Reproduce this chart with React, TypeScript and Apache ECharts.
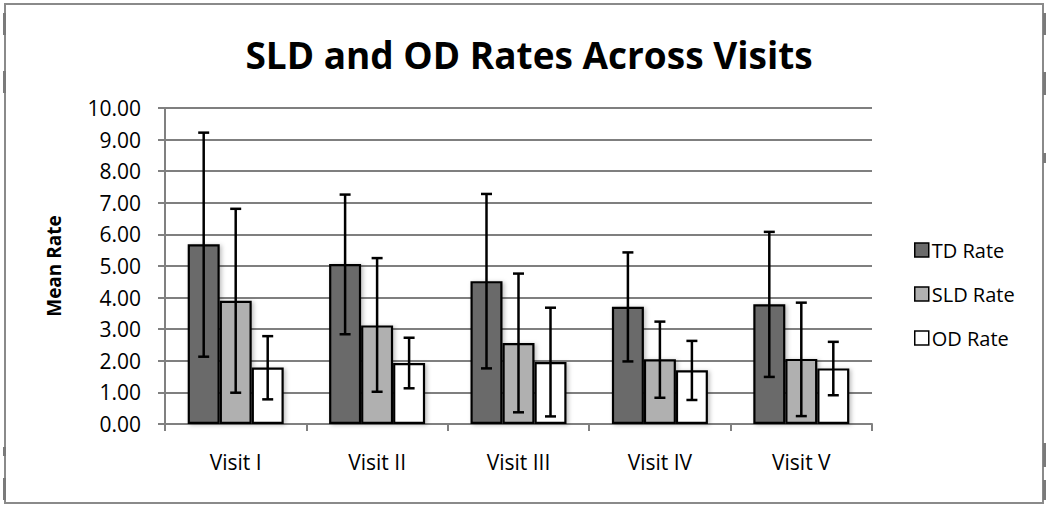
import React, { useEffect, useRef } from "react";
import * as echarts from "echarts";

const categories = ["Visit I", "Visit II", "Visit III", "Visit IV", "Visit V"];
const seriesNames = ["TD Rate", "SLD Rate", "OD Rate"];
const tdRate = [5.69, 5.06, 4.52, 3.71, 3.79];
const sldRate = [3.9, 3.12, 2.56, 2.05, 2.06];
const odRate = [1.79, 1.93, 1.96, 1.7, 1.76];
const tdLow = [2.13, 2.84, 1.76, 1.98, 1.49];
const tdHigh = [9.22, 7.26, 7.28, 5.43, 6.08];
const sldLow = [0.99, 1.02, 0.37, 0.83, 0.25];
const sldHigh = [6.81, 5.25, 4.76, 3.24, 3.84];
const odLow = [0.78, 1.13, 0.24, 0.76, 0.91];
const odHigh = [2.78, 2.73, 3.68, 2.63, 2.6];

const BAR_W = 32;
const FONT = "'Open Sans', sans-serif";

export default function App() {
  const ref = useRef<HTMLDivElement>(null);
  useEffect(() => {
    if (!ref.current) return;
    const chart = echarts.init(ref.current, null, { renderer: "svg" });
    const values = [tdRate, sldRate, odRate];
    const lows = [tdLow, sldLow, odLow];
    const highs = [tdHigh, sldHigh, odHigh];
    const colors = ["#6b6b6b", "#b0b0b0", "#ffffff"];

    const errData: number[][] = [];
    for (let s = 0; s < 3; s++) {
      for (let i = 0; i < categories.length; i++) {
        errData.push([i, lows[s][i], highs[s][i], s]);
      }
    }

    const barSeries = seriesNames.map((name, s) => ({
      name,
      type: "bar",
      data: values[s],
      barWidth: BAR_W,
      barGap: "0%",
      itemStyle: {
        color: colors[s],
        borderColor: "#000",
        borderWidth: 2.2,
        shadowColor: "rgba(0,0,0,0.25)",
        shadowBlur: 4,
        shadowOffsetX: 2,
        shadowOffsetY: 1,
      },
      z: 2,
    }));

    const handles: any[] = [];
    const leftMarks = [[13, 35], [71, 93], [447, 456], [478, 500]];
    const rightMarks = [[13, 35], [72, 95], [153, 163], [443, 467], [480, 500]];
    leftMarks.forEach(([a, b]) =>
      handles.push({ type: "rect", shape: { x: 3, y: a, width: 3, height: b - a }, style: { fill: "#7a7a7a" }, z: 10 })
    );
    rightMarks.forEach(([a, b]) =>
      handles.push({ type: "rect", shape: { x: 1043, y: a, width: 3, height: b - a }, style: { fill: "#7a7a7a" }, z: 10 })
    );

    chart.setOption({
      animation: false,
      backgroundColor: "#ffffff",
      title: {
        text: "SLD and OD Rates Across Visits",
        left: 524,
        textAlign: "center",
        top: 31,
        textStyle: { fontFamily: FONT, fontWeight: "bold", fontSize: 37, color: "#000" },
      },
      legend: {
        orient: "vertical",
        left: 909,
        top: 235,
        itemWidth: 14,
        itemHeight: 14,
        itemGap: 24,
        icon: "rect",
        data: seriesNames,
        itemStyle: { borderColor: "#000", borderWidth: 1.5 },
        textStyle: { fontFamily: FONT, fontSize: 20, color: "#000", padding: [0, 0, 0, -2] },
      },
      grid: { left: 165, right: 178, top: 108, bottom: 87, containLabel: false },
      xAxis: {
        type: "category",
        data: categories,
        axisLine: { lineStyle: { color: "#808080", width: 2 } },
        axisTick: { show: true, length: 7, lineStyle: { color: "#808080", width: 2 } },
        axisLabel: { fontFamily: FONT, fontSize: 21, color: "#000", margin: 27 },
      },
      yAxis: {
        type: "value",
        min: 0,
        max: 10,
        interval: 1,
        name: "Mean Rate",
        nameLocation: "middle",
        nameGap: 102,
        nameTextStyle: { fontFamily: FONT, fontWeight: "bold", fontSize: 19, color: "#000" },
        axisLine: { show: true, lineStyle: { color: "#808080", width: 2 } },
        axisTick: { show: true, length: 7, lineStyle: { color: "#808080", width: 2 } },
        axisLabel: {
          fontFamily: FONT,
          fontSize: 21,
          color: "#000",
          margin: 24,
          formatter: (v: number) => v.toFixed(2),
        },
        splitLine: { lineStyle: { color: "#7f7f7f", width: 2 } },
      },
      graphic: [
        {
          type: "rect",
          shape: { x: 5, y: 4, width: 1038, height: 499 },
          style: { fill: "none", stroke: "#8a8a8a", lineWidth: 2 },
          z: 10,
        },
        ...handles,
      ],
      series: [
        ...barSeries,
        {
          type: "custom",
          name: "err",
          data: errData,
          z: 5,
          silent: true,
          renderItem: (params: any, api: any) => {
            const idx = api.value(0);
            const s = api.value(3);
            const lo = api.coord([idx, api.value(1)]);
            const hi = api.coord([idx, api.value(2)]);
            const x = lo[0] + (s - 1) * BAR_W;
            const cap = 5.5;
            const st = { stroke: "#000", lineWidth: 2.5 };
            return {
              type: "group",
              children: [
                { type: "line", shape: { x1: x, y1: lo[1], x2: x, y2: hi[1] }, style: st },
                { type: "line", shape: { x1: x - cap, y1: hi[1], x2: x + cap, y2: hi[1] }, style: st },
                { type: "line", shape: { x1: x - cap, y1: lo[1], x2: x + cap, y2: lo[1] }, style: st },
              ],
            };
          },
        },
      ],
    });
    return () => chart.dispose();
  }, []);
  return (
    <div
      ref={ref}
      style={{ position: "fixed", left: 0, top: 0, width: 1050, height: 511 }}
    />
  );
}
